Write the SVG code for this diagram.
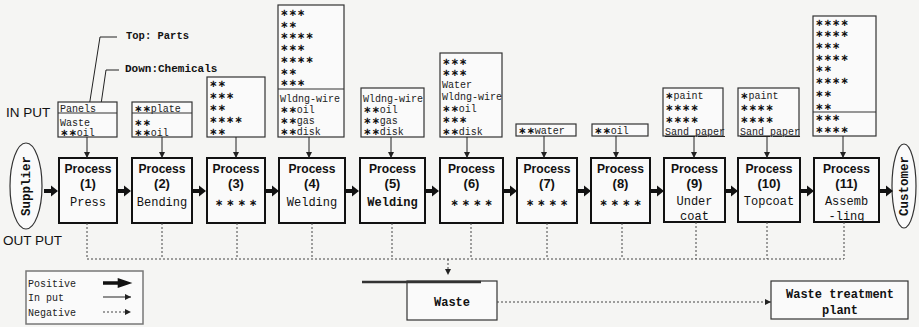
<svg xmlns="http://www.w3.org/2000/svg" width="919" height="327" viewBox="0 0 919 327">
<style>
  .bg{fill:#f5f5f3}
  .pbox{fill:#fafafa;stroke:#111;stroke-width:2}
  .ibox{fill:#fafafa;stroke:#333;stroke-width:1.2}
  .div{stroke:#333;stroke-width:1.2}
  .ptitle{font-family:"Liberation Sans",Arial,sans-serif;font-weight:bold;font-size:13.5px;fill:#111;text-anchor:middle}
  .pnum{font-family:"Liberation Sans",Arial,sans-serif;font-weight:bold;font-size:13px;fill:#111;text-anchor:middle}
  .pname{font-family:"Liberation Mono","Courier New",monospace;font-size:12px;fill:#111;text-anchor:middle}
  .small{font-family:"Liberation Mono","Courier New",monospace;font-size:10px;fill:#222}
  .st{font-family:"DejaVu Sans",sans-serif;font-weight:bold;font-size:10px;fill:#111}
  .pst{font-family:"DejaVu Sans",sans-serif;font-weight:bold;font-size:10px;fill:#111;text-anchor:middle;letter-spacing:3px}
  .note{font-family:"Liberation Mono","Courier New",monospace;font-weight:bold;fill:#111}
  .side{font-family:"Liberation Sans",Arial,sans-serif;font-size:13.5px;fill:#111}
  .ell{fill:#fafafa;stroke:#333;stroke-width:1.2}
  .inp{stroke:#222;stroke-width:1;fill:none;marker-end:url(#ah)}
  .out{stroke:#444;stroke-width:1;fill:none;stroke-dasharray:2 2}
  .lead{stroke:#222;stroke-width:1;fill:none}
  .fat{fill:#111}
</style>
<defs>
  <marker id="ah" markerUnits="userSpaceOnUse" markerWidth="7" markerHeight="7" refX="6" refY="3.5" orient="auto">
    <path d="M0,0.5 L6,3.5 L0,6.5 Z" fill="#222"/>
  </marker>
  <path id="fatArrow" d="M0,-2 H7 V-5.5 L14,0 L7,5.5 V2 H0 Z"/>
</defs>

<rect class="bg" x="0" y="0" width="919" height="327"/>

<!-- side labels -->
<text class="side" x="6" y="117">IN PUT</text>
<text class="side" x="3" y="245">OUT PUT</text>

<!-- leader notes -->
<g id="notes">
  <text class="note" x="126" y="39" font-size="10.5">Top: Parts</text>
  <text class="note" x="125" y="72" font-size="11">Down:Chemicals</text>
  <polyline class="lead" points="117,37 100,37 89,107"/>
  <polyline class="lead" points="119,70 106,70 99,118"/>
</g>

<!-- supplier / customer -->
<g id="supplier">
  <ellipse class="ell" cx="26" cy="186" rx="16" ry="43"/>
  <text class="note" font-size="12.5" text-anchor="middle" transform="translate(30,186) rotate(-90)">Supplier</text>
</g>
<g id="customer">
  <ellipse class="ell" cx="904" cy="186" rx="12" ry="42"/>
  <text class="note" font-size="12.5" text-anchor="middle" transform="translate(908,186) rotate(-90)">Customer</text>
</g>

<!-- input material boxes -->
<g id="in1">
  <rect class="ibox" x="58" y="102" width="59" height="35"/>
  <line class="div" x1="58" y1="113" x2="117" y2="113"/>
  <text class="small" x="60" y="111.5">Panels</text>
  <text class="small" x="60" y="125.5">Waste</text>
  <text class="small" x="60" y="136"><tspan class="st">∗∗</tspan>oil</text>
</g>
<g id="in2">
  <rect class="ibox" x="132" y="102" width="60" height="35"/>
  <line class="div" x1="132" y1="113" x2="192" y2="113"/>
  <text class="small" x="134" y="111.5"><tspan class="st">∗∗</tspan>plate</text>
  <text class="small" x="134" y="125.5"><tspan class="st">∗∗</tspan></text>
  <text class="small" x="134" y="136"><tspan class="st">∗∗</tspan>oil</text>
</g>
<g id="in3">
  <rect class="ibox" x="207" y="77" width="58" height="60"/>
  <text class="st" x="209" y="86.5">∗∗</text>
  <text class="st" x="209" y="98.5">∗∗∗</text>
  <text class="st" x="209" y="110.5">∗∗</text>
  <text class="st" x="209" y="122.5">∗∗∗∗</text>
  <text class="st" x="209" y="134.5">∗∗</text>
</g>
<g id="in4">
  <rect class="ibox" x="278" y="5" width="66" height="132"/>
  <line class="div" x1="278" y1="89" x2="344" y2="89"/>
  <text class="st" x="280" y="15.5">∗∗∗</text>
  <text class="st" x="280" y="27.5">∗∗</text>
  <text class="st" x="280" y="38.5">∗∗∗∗</text>
  <text class="st" x="280" y="50.5">∗∗∗</text>
  <text class="st" x="280" y="62.5">∗∗∗∗</text>
  <text class="st" x="280" y="74.5">∗∗</text>
  <text class="st" x="280" y="85.5">∗∗∗</text>
  <text class="small" x="280" y="101.5">Wldng-wire</text>
  <text class="small" x="280" y="112.5"><tspan class="st">∗∗</tspan>oil</text>
  <text class="small" x="280" y="123.5"><tspan class="st">∗∗</tspan>gas</text>
  <text class="small" x="280" y="135"><tspan class="st">∗∗</tspan>disk</text>
</g>
<g id="in5">
  <rect class="ibox" x="361" y="88" width="63" height="49"/>
  <text class="small" x="363" y="101.5">Wldng-wire</text>
  <text class="small" x="363" y="112.5"><tspan class="st">∗∗</tspan>oil</text>
  <text class="small" x="363" y="123.5"><tspan class="st">∗∗</tspan>gas</text>
  <text class="small" x="363" y="135"><tspan class="st">∗∗</tspan>disk</text>
</g>
<g id="in6">
  <rect class="ibox" x="440" y="53" width="62" height="84"/>
  <text class="st" x="442" y="64.5">∗∗∗</text>
  <text class="st" x="442" y="76">∗∗∗</text>
  <text class="small" x="442" y="87.5">Water</text>
  <text class="small" x="442" y="99.5">Wldng-wire</text>
  <text class="small" x="442" y="111.5"><tspan class="st">∗∗</tspan>oil</text>
  <text class="st" x="442" y="123">∗∗∗</text>
  <text class="small" x="442" y="135"><tspan class="st">∗∗</tspan>disk</text>
</g>
<g id="in7">
  <rect class="ibox" x="516" y="124" width="60" height="12"/>
  <text class="small" x="518" y="133.5"><tspan class="st">∗∗</tspan>water</text>
</g>
<g id="in8">
  <rect class="ibox" x="592" y="124" width="56" height="12"/>
  <text class="small" x="594" y="133.5"><tspan class="st">∗∗</tspan>oil</text>
</g>
<g id="in9">
  <rect class="ibox" x="663" y="88" width="60" height="48"/>
  <text class="small" x="665" y="98.5"><tspan class="st">∗</tspan>paint</text>
  <text class="st" x="665" y="111">∗∗∗∗</text>
  <text class="st" x="665" y="122.5">∗∗∗∗</text>
  <text class="small" x="665" y="135" text-decoration="underline">Sand paper</text>
</g>
<g id="in10">
  <rect class="ibox" x="738" y="88" width="61" height="48"/>
  <text class="small" x="740" y="98.5"><tspan class="st">∗</tspan>paint</text>
  <text class="st" x="740" y="111">∗∗∗∗</text>
  <text class="st" x="740" y="122.5">∗∗∗∗</text>
  <text class="small" x="740" y="135" text-decoration="underline">Sand paper</text>
</g>
<g id="in11">
  <rect class="ibox" x="813" y="16" width="63" height="120"/>
  <line class="div" x1="813" y1="112" x2="876" y2="112"/>
  <text class="st" x="815" y="25.5">∗∗∗∗</text>
  <text class="st" x="815" y="36.5">∗∗∗∗</text>
  <text class="st" x="815" y="48.5">∗∗∗</text>
  <text class="st" x="815" y="60.5">∗∗∗∗</text>
  <text class="st" x="815" y="71.5">∗∗</text>
  <text class="st" x="815" y="83.5">∗∗∗∗</text>
  <text class="st" x="815" y="96.5">∗∗</text>
  <text class="st" x="815" y="109.5">∗∗</text>
  <text class="st" x="815" y="120.5">∗∗∗</text>
  <text class="st" x="815" y="132.5">∗∗∗∗</text>
</g>

<!-- process boxes -->
<g id="p1">
  <rect class="pbox" x="59" y="158" width="58" height="65"/>
  <text class="ptitle" x="88" y="173" textLength="47" lengthAdjust="spacingAndGlyphs">Process</text>
  <text class="pnum" x="88" y="188">(1)</text>
  <text class="pname" x="88" y="206">Press</text>
</g>
<g id="p2">
  <rect class="pbox" x="132" y="158" width="60" height="65"/>
  <text class="ptitle" x="162" y="173" textLength="47" lengthAdjust="spacingAndGlyphs">Process</text>
  <text class="pnum" x="162" y="188">(2)</text>
  <text class="pname" x="162" y="206">Bending</text>
</g>
<g id="p3">
  <rect class="pbox" x="207" y="158" width="58" height="65"/>
  <text class="ptitle" x="236" y="173" textLength="47" lengthAdjust="spacingAndGlyphs">Process</text>
  <text class="pnum" x="236" y="188">(3)</text>
  <text class="pst" x="237.5" y="206">∗∗∗∗</text>
</g>
<g id="p4">
  <rect class="pbox" x="279" y="158" width="66" height="65"/>
  <text class="ptitle" x="312" y="173" textLength="47" lengthAdjust="spacingAndGlyphs">Process</text>
  <text class="pnum" x="312" y="188">(4)</text>
  <text class="pname" x="312" y="206">Welding</text>
</g>
<g id="p5">
  <rect class="pbox" x="360" y="158" width="65" height="65"/>
  <text class="ptitle" x="392.5" y="173" textLength="47" lengthAdjust="spacingAndGlyphs">Process</text>
  <text class="pnum" x="392.5" y="188">(5)</text>
  <text class="pname" x="392.5" y="206" font-weight="bold">Welding</text>
</g>
<g id="p6">
  <rect class="pbox" x="440" y="158" width="63" height="65"/>
  <text class="ptitle" x="471.5" y="173" textLength="47" lengthAdjust="spacingAndGlyphs">Process</text>
  <text class="pnum" x="471.5" y="188">(6)</text>
  <text class="pst" x="473" y="206">∗∗∗∗</text>
</g>
<g id="p7">
  <rect class="pbox" x="517" y="158" width="60" height="65"/>
  <text class="ptitle" x="547" y="173" textLength="47" lengthAdjust="spacingAndGlyphs">Process</text>
  <text class="pnum" x="547" y="188">(7)</text>
  <text class="pst" x="548.5" y="206">∗∗∗∗</text>
</g>
<g id="p8">
  <rect class="pbox" x="591" y="158" width="59" height="65"/>
  <text class="ptitle" x="620.5" y="173" textLength="47" lengthAdjust="spacingAndGlyphs">Process</text>
  <text class="pnum" x="620.5" y="188">(8)</text>
  <text class="pst" x="622" y="206">∗∗∗∗</text>
</g>
<g id="p9">
  <rect class="pbox" x="664" y="158" width="61" height="64"/>
  <text class="ptitle" x="694.5" y="173" textLength="47" lengthAdjust="spacingAndGlyphs">Process</text>
  <text class="pnum" x="694.5" y="188">(9)</text>
  <text class="pname" x="694.5" y="205">Under</text>
  <text class="pname" x="694.5" y="220">coat</text>
</g>
<g id="p10">
  <rect class="pbox" x="738" y="158" width="62" height="64"/>
  <text class="ptitle" x="769" y="173" textLength="47" lengthAdjust="spacingAndGlyphs">Process</text>
  <text class="pnum" x="769" y="188">(10)</text>
  <text class="pname" x="769" y="205">Topcoat</text>
</g>
<g id="p11">
  <rect class="pbox" x="814" y="158" width="65" height="64"/>
  <text class="ptitle" x="846.5" y="173" textLength="47" lengthAdjust="spacingAndGlyphs">Process</text>
  <text class="pnum" x="846.5" y="188">(11)</text>
  <text class="pname" x="846.5" y="205">Assemb</text>
  <text class="pname" x="846.5" y="220">-ling</text>
</g>

<!-- waste boxes -->
<g id="waste">
  <rect class="ibox" x="407" y="281" width="90" height="39"/>
  <text class="note" x="452" y="306" font-size="12" text-anchor="middle">Waste</text>
</g>
<g id="plant">
  <rect class="ibox" x="771" y="281" width="137" height="38"/>
  <text class="note" x="840" y="298" font-size="12" text-anchor="middle">Waste treatment</text>
  <text class="note" x="840" y="314" font-size="12" text-anchor="middle">plant</text>
</g>

<!-- legend -->
<g id="legend">
  <rect x="26" y="271" width="117" height="53" fill="#fafafa" stroke="#777" stroke-width="1.5"/>
  <text class="small" x="28" y="286.5" font-size="10.5">Positive</text>
  <text class="small" x="28" y="300.5" font-size="10.5">In put</text>
  <text class="small" x="28" y="315.5" font-size="10.5">Negative</text>
  <use href="#fatArrow" class="fat" transform="translate(103,283) scale(2.1,0.9)"/>
  <line class="inp" x1="103" y1="297" x2="131" y2="297"/>
  <line class="out" x1="103" y1="312" x2="131" y2="312" marker-end="url(#ah)"/>
</g>

<!-- connectors -->
<g id="connectors">
  <!-- positive flow -->
  <g class="fat">
    <use href="#fatArrow" transform="translate(44,191)"/>
    <use href="#fatArrow" transform="translate(117,191)"/>
    <use href="#fatArrow" transform="translate(192,191)"/>
    <use href="#fatArrow" transform="translate(265,191)"/>
    <use href="#fatArrow" transform="translate(345,191)"/>
    <use href="#fatArrow" transform="translate(425,191)"/>
    <use href="#fatArrow" transform="translate(503,191)"/>
    <use href="#fatArrow" transform="translate(577,191)"/>
    <use href="#fatArrow" transform="translate(650,191)"/>
    <use href="#fatArrow" transform="translate(724,191)"/>
    <use href="#fatArrow" transform="translate(800,191)"/>
    <use href="#fatArrow" transform="translate(879,191)"/>
  </g>
  <!-- inputs -->
  <line class="inp" x1="87" y1="137" x2="87" y2="158"/>
  <line class="inp" x1="162" y1="137" x2="162" y2="158"/>
  <line class="inp" x1="236" y1="137" x2="236" y2="158"/>
  <line class="inp" x1="309" y1="137" x2="309" y2="158"/>
  <line class="inp" x1="391" y1="137" x2="391" y2="158"/>
  <line class="inp" x1="467" y1="137" x2="467" y2="158"/>
  <line class="inp" x1="544" y1="136" x2="544" y2="158"/>
  <line class="inp" x1="616" y1="136" x2="616" y2="158"/>
  <line class="inp" x1="694" y1="136" x2="694" y2="158"/>
  <line class="inp" x1="767" y1="136" x2="767" y2="158"/>
  <line class="inp" x1="843" y1="136" x2="843" y2="158" stroke-width="1.6"/>
  <!-- outputs -->
  <line class="out" x1="87" y1="223" x2="87" y2="259"/>
  <line class="out" x1="162" y1="223" x2="162" y2="259"/>
  <line class="out" x1="237" y1="223" x2="237" y2="259"/>
  <line class="out" x1="312" y1="223" x2="312" y2="259"/>
  <line class="out" x1="392" y1="223" x2="392" y2="259"/>
  <line class="out" x1="471" y1="223" x2="471" y2="259"/>
  <line class="out" x1="547" y1="223" x2="547" y2="259"/>
  <line class="out" x1="622" y1="223" x2="622" y2="259"/>
  <line class="out" x1="696" y1="222" x2="696" y2="259"/>
  <line class="out" x1="767" y1="222" x2="767" y2="259"/>
  <line class="out" x1="844" y1="222" x2="844" y2="259"/>
  <line class="out" x1="87" y1="259" x2="844" y2="259"/>
  <line class="out" x1="448" y1="259" x2="448" y2="275" marker-end="url(#ah)"/>
  <line x1="362" y1="282" x2="481" y2="282" stroke="#333" stroke-width="2.5"/>
  <!-- waste to treatment -->
  <line class="out" x1="497" y1="302" x2="771" y2="302" marker-end="url(#ah)"/>
</g>
</svg>
